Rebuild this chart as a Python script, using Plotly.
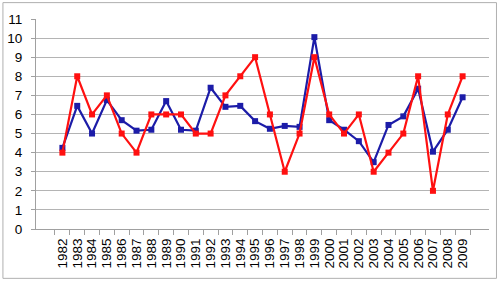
import plotly.graph_objects as go

years = [str(y) for y in range(1982, 2010)]
blue_vals = [4.25, 6.45, 5.0, 6.75, 5.7, 5.15, 5.2, 6.7, 5.2, 5.15, 7.4, 6.4, 6.45, 5.65,
             5.25, 5.4, 5.35, 10.05, 5.7, 5.2, 4.6, 3.5, 5.45, 5.9, 7.35, 4.05, 5.2, 6.9]
red_vals = [4, 8, 6, 7, 5, 4, 6, 6, 6, 5, 5, 7, 8, 9, 6, 3, 5, 9, 6, 5, 6, 3, 4, 5, 8, 2, 6, 8]

fig = go.Figure()
fig.add_trace(go.Scatter(x=years, y=blue_vals, mode="lines+markers",
                         line=dict(color="#1c1ca8", width=2.2),
                         marker=dict(symbol="square", size=6, color="#1c1ca8"),
                         showlegend=False))
fig.add_trace(go.Scatter(x=years, y=red_vals, mode="lines+markers",
                         line=dict(color="#ff1010", width=2.2),
                         marker=dict(symbol="square", size=6, color="#ff1010"),
                         showlegend=False))

fig.update_layout(
    width=500, height=281,
    margin=dict(l=36, r=11, t=19, b=52),
    paper_bgcolor="white", plot_bgcolor="white",
    font=dict(family="Liberation Sans, Arial, sans-serif", color="black"),
    xaxis=dict(type="category", tickangle=-90, tickfont=dict(size=13.5),
               tickmode="linear", tick0=0, dtick=1, ticklabelstandoff=3, automargin=False,
               showgrid=False, showline=True, linecolor="#a0a0a0", linewidth=1,
               ticks="outside", tickson="boundaries", ticklen=5, tickcolor="#a0a0a0"),
    yaxis=dict(range=[0, 11], dtick=1, tickfont=dict(size=13.5), ticklabelstandoff=6,
               automargin=False,
               showgrid=True, gridcolor="#b4b4b4", gridwidth=1,
               showline=True, linecolor="#a0a0a0", linewidth=1,
               ticks="outside", ticklen=4, tickcolor="#a0a0a0", zeroline=False),
    shapes=[dict(type="rect", xref="paper", yref="paper",
                 x0=-0.073, x1=1.0165, y0=-0.235, y1=1.078,
                 line=dict(color="#b0b0b0", width=1), fillcolor="rgba(0,0,0,0)", layer="below")],
)

fig.write_html("out.html")
